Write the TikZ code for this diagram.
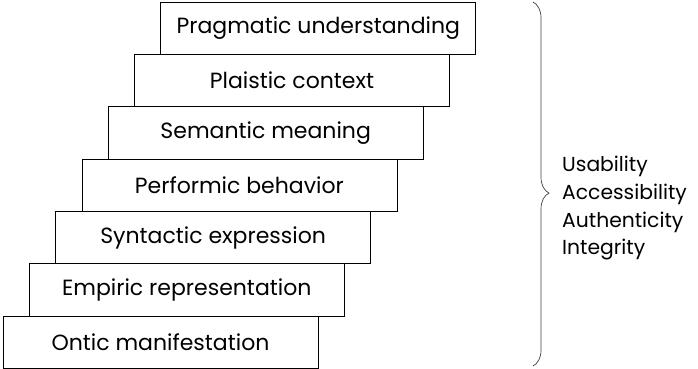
\documentclass[tikz,border=0pt]{standalone}
\usepackage{fontspec}
\setmainfont{Poppins}
\usetikzlibrary{decorations.pathreplacing}

\begin{document}
\begin{tikzpicture}[x=1pt, y=-1pt,
  level/.style={draw, line width=0.8pt, minimum width=315pt, minimum height=52.3pt,
    inner sep=0pt, font=\fontsize{22}{26}\selectfont},
  quality/.style={align=left, inner sep=0pt, font=\fontsize{20.3}{27.7}\selectfont}]
  \useasboundingbox (0,0) rectangle (698,369);

  % the seven levels, bottom to top
  \node[level] (ontic)     at (160.5, 342.1) {Ontic manifestation};
  \node[level] (empiric)   at (186.8, 289.8) {Empiric representation};
  \node[level] (syntactic) at (213.1, 237.5) {Syntactic expression};
  \node[level] (performic) at (239.4, 185.2) {Performic behavior};
  \node[level] (semantic)  at (265.7, 132.9) {Semantic meaning};
  \node[level] (plaistic)  at (292.0, 80.6)  {Plaistic context};
  \node[level] (pragmatic) at (318.3, 28.3)  {Pragmatic understanding};

  % brace and qualities
  \coordinate (btop) at (533, 2);
  \coordinate (bbot) at (533, 366);
  \draw[black!75, line width=0.7pt, decorate,
    decoration={brace, amplitude=16pt, aspect=0.525}] (btop) -- (bbot);
  \node[quality, anchor=north west] (qualities) at (562, 156)
    {Usability\\Accessibility\\Authenticity\\Integrity};
\end{tikzpicture}
\end{document}
